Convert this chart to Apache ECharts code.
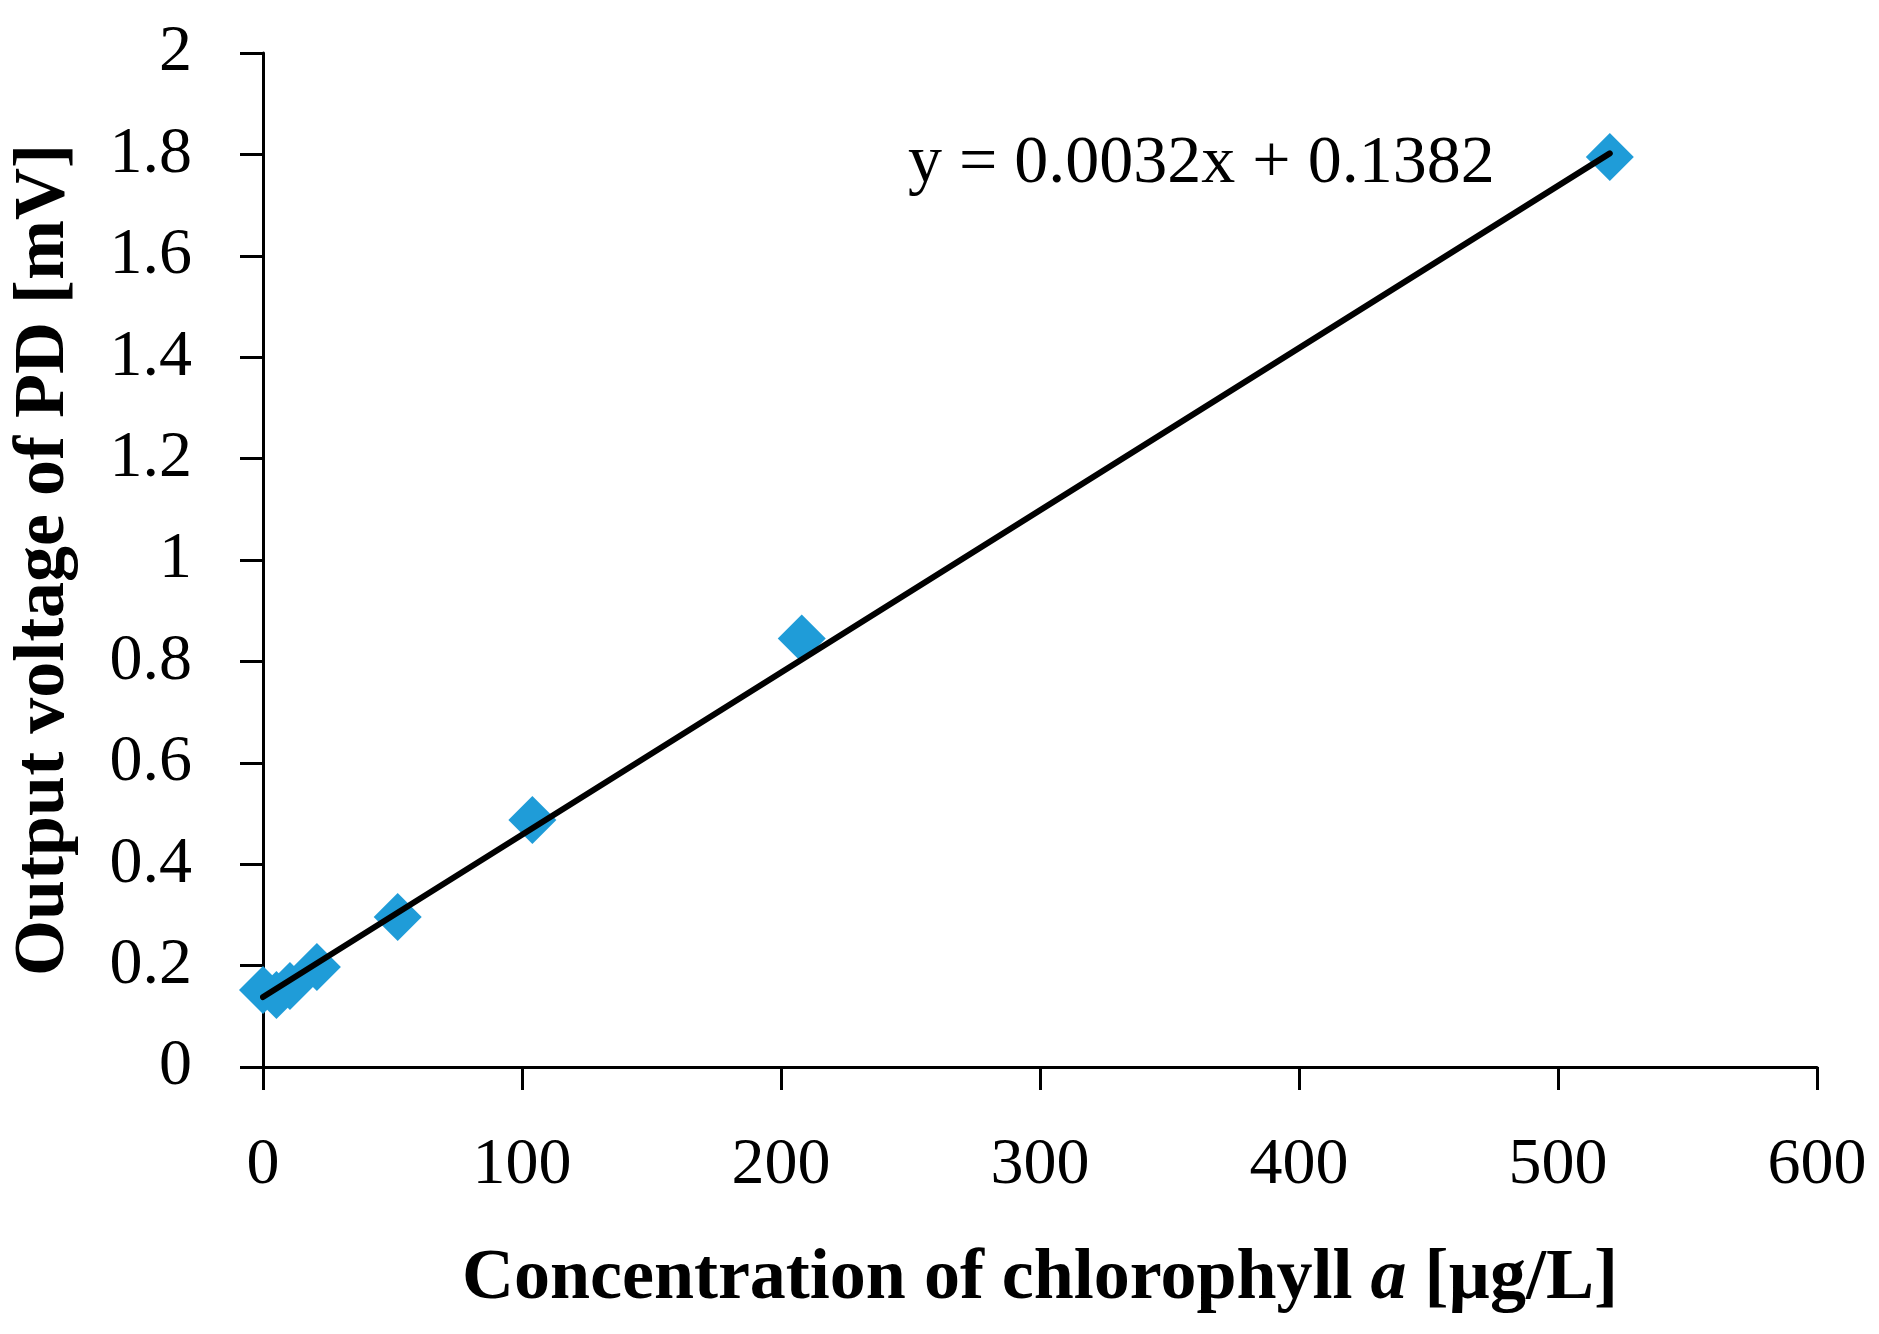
<!DOCTYPE html>
<html>
<head>
<meta charset="utf-8">
<script src="https://cdn.jsdelivr.net/npm/echarts@6/dist/echarts.min.js"></script>
<style>
  html, body { margin: 0; padding: 0; background: #fff; }
  #chart { width: 1879px; height: 1334px; }
</style>
</head>
<body>
<div id="chart"></div>
<script>
// measured points (concentration, voltage)
const concentration = [0, 5.2, 10.4, 20.8, 52, 104, 208, 520];
const voltage = [0.152, 0.142, 0.16, 0.197, 0.296, 0.487, 0.845, 1.795];

// linear fit end points, as drawn in the picture
const fitX = [0, 520];
const fitY = [0.138, 1.802];

const equationText = 'y = 0.0032x + 0.1382';

const FONT = 'Liberation Serif';

const points = concentration.map(function (c, i) { return [c, voltage[i]]; });
const fitLine = fitX.map(function (x, i) { return [x, fitY[i]]; });

const chart = echarts.init(document.getElementById('chart'));

chart.setOption({
  backgroundColor: '#fff',
  animation: false,
  grid: {
    left: 263,
    right: 62,
    top: 53,
    bottom: 267
  },
  xAxis: {
    type: 'value',
    min: 0,
    max: 600,
    interval: 100,
    name: '{b|Concentration of chlorophyll }{i|a}{b| [µg/L]}',
    nameLocation: 'middle',
    nameGap: 176,
    nameTextStyle: {
      rich: {
        b: { fontFamily: FONT, fontWeight: 'bold', fontSize: 72, color: '#000' },
        i: { fontFamily: FONT, fontWeight: 'bold', fontStyle: 'italic', fontSize: 72, color: '#000' }
      }
    },
    axisLine: { lineStyle: { color: '#000', width: 3 } },
    axisTick: { show: true, inside: false, length: 23, lineStyle: { color: '#000', width: 3 } },
    axisLabel: { fontFamily: FONT, fontSize: 66, color: '#000', margin: 66 },
    splitLine: { show: false }
  },
  yAxis: {
    type: 'value',
    min: 0,
    max: 2,
    interval: 0.2,
    name: 'Output voltage of PD [mV]',
    nameLocation: 'middle',
    nameGap: 183,
    nameTextStyle: { fontFamily: FONT, fontWeight: 'bold', fontSize: 72, color: '#000' },
    axisLine: { show: true, lineStyle: { color: '#000', width: 3 } },
    axisTick: { show: true, inside: false, length: 23, lineStyle: { color: '#000', width: 3 } },
    axisLabel: { fontFamily: FONT, fontSize: 66, color: '#000', margin: 71 },
    splitLine: { show: false }
  },
  graphic: [{
    type: 'text',
    left: 908,
    top: 130,
    style: {
      text: equationText,
      fontFamily: FONT,
      fontSize: 68,
      fill: '#000'
    }
  }],
  series: [
    {
      type: 'scatter',
      data: points,
      symbol: 'diamond',
      symbolSize: 48,
      itemStyle: { color: '#1F9CD8', opacity: 1 },
      z: 2
    },
    {
      type: 'line',
      data: fitLine,
      showSymbol: false,
      lineStyle: { color: '#000', width: 6, cap: 'round' },
      z: 3
    }
  ]
});
</script>
</body>
</html>
